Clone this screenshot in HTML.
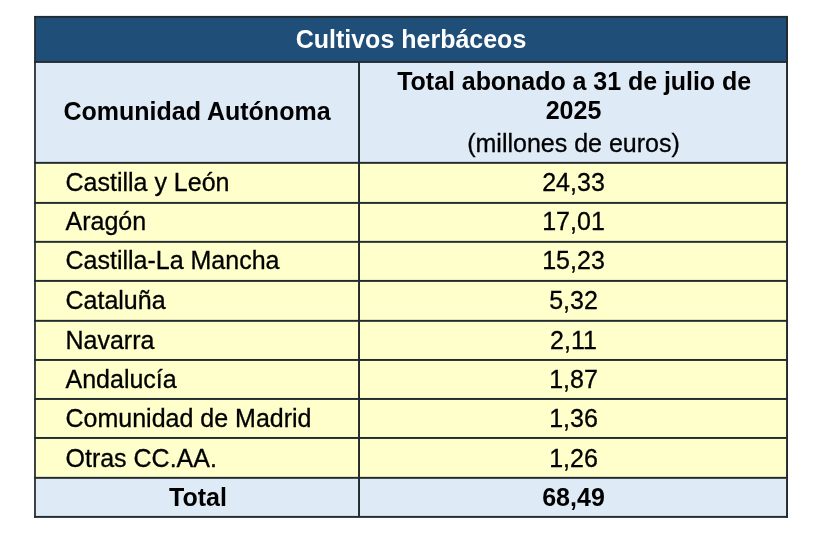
<!DOCTYPE html>
<html lang="es">
<head>
<meta charset="utf-8">
<title>Cultivos herbáceos</title>
<style>
html,body{margin:0;padding:0;background:#fff;}
body{width:828px;height:544px;position:relative;overflow:hidden;font-family:"Liberation Sans",sans-serif;color:#000;font-size:25px;}
.t{position:absolute;white-space:nowrap;line-height:30px;height:30px;-webkit-text-stroke:0.3px currentColor;}
.l{left:65.5px;}
.c1{left:35px;width:324px;text-align:center;}
.c2{left:360px;width:427px;text-align:center;}
.b{font-weight:bold;-webkit-text-stroke:0;}
</style>
</head>
<body>
<!-- backgrounds and grid lines -->
<svg width="828" height="544" viewBox="0 0 828 544" style="position:absolute;left:0;top:0;">
<rect x="35" y="17" width="752" height="45.5" fill="#1f4e79"/>
<rect x="35" y="62.5" width="752" height="100.5" fill="#deeaf6"/>
<rect x="35" y="163" width="752" height="315" fill="#ffffcc"/>
<rect x="35" y="478" width="752" height="39" fill="#deeaf6"/>
<g fill="#222b2e">
<rect x="34.1" y="15.9" width="753.9" height="1.8"/>
<rect x="34.1" y="61.00" width="753.9" height="1.9"/>
<rect x="34.1" y="161.87" width="753.9" height="1.95"/>
<rect x="34.1" y="201.93" width="753.9" height="1.95"/>
<rect x="34.1" y="240.87" width="753.9" height="1.95"/>
<rect x="34.1" y="279.92" width="753.9" height="1.95"/>
<rect x="34.1" y="319.86" width="753.9" height="1.95"/>
<rect x="34.1" y="358.98" width="753.9" height="1.95"/>
<rect x="34.1" y="397.98" width="753.9" height="1.95"/>
<rect x="34.1" y="436.98" width="753.9" height="1.95"/>
<rect x="34.1" y="476.86" width="753.9" height="1.95"/>
<rect x="34.1" y="515.92" width="753.9" height="1.95"/>
<rect x="34.1" y="16" width="1.75" height="501.8"/>
<rect x="358.05" y="62" width="1.95" height="455"/>
<rect x="786.05" y="16" width="1.95" height="501.8"/>
</g></svg>

<!-- text -->
<div class="t b" style="left:35px;width:752px;text-align:center;top:24px;color:#fff;">Cultivos herbáceos</div>

<div class="t b c1" style="top:96px;">Comunidad Autónoma</div>
<div class="t b c2" style="top:66px;letter-spacing:-0.045px;padding-left:1.3px;box-sizing:border-box;">Total abonado a 31 de julio de</div>
<div class="t b c2" style="top:95px;">2025</div>
<div class="t c2" style="top:128px;">(millones de euros)</div>

<div class="t l" style="top:167px;">Castilla y León</div>
<div class="t c2" style="top:167px;">24,33</div>
<div class="t l" style="top:206px;">Aragón</div>
<div class="t c2" style="top:206px;">17,01</div>
<div class="t l" style="top:245px;">Castilla-La Mancha</div>
<div class="t c2" style="top:245px;">15,23</div>
<div class="t l" style="top:285px;">Cataluña</div>
<div class="t c2" style="top:285px;">5,32</div>
<div class="t l" style="top:325px;">Navarra</div>
<div class="t c2" style="top:325px;">2,11</div>
<div class="t l" style="top:364px;">Andalucía</div>
<div class="t c2" style="top:364px;">1,87</div>
<div class="t l" style="top:403px;">Comunidad de Madrid</div>
<div class="t c2" style="top:403px;">1,36</div>
<div class="t l" style="top:443px;">Otras CC.AA.</div>
<div class="t c2" style="top:443px;">1,26</div>
<div class="t b c1" style="top:482px;margin-left:1px;">Total</div>
<div class="t b c2" style="top:482px;">68,49</div>
</body>
</html>
